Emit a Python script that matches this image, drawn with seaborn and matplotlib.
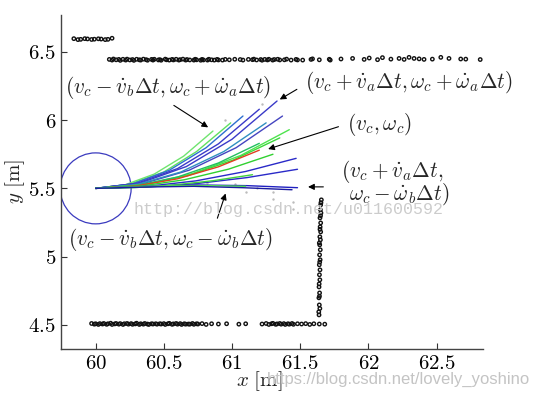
import numpy as np
import pandas as pd
import matplotlib
matplotlib.use("Agg")
import matplotlib.pyplot as plt
import matplotlib.ticker as mticker
from matplotlib.patches import Circle
import seaborn as sns

# robot
robot_x, robot_y, robot_r = 60.0, 5.5, 0.26

# candidate trajectories
traj_x = [
    [60, 60.215, 60.43, 60.645, 60.86],
    [60, 60.25, 60.5, 60.74, 60.99],
    [60, 60.27, 60.54, 60.81, 61.08],
    [60, 60.3, 60.6, 60.9, 61.2],
    [60, 60.33, 60.665, 61.0, 61.33],
    [60, 60.34, 60.685, 61.03, 61.37],
    [60, 60.31, 60.625, 60.94, 61.25],
    [60, 60.355, 60.71, 61.065, 61.42],
    [60, 60.34, 60.675, 61.01, 61.35],
    [60, 60.3, 60.6, 60.9, 61.2],
    [60, 60.3, 60.6, 60.9, 61.2],
    [60, 60.325, 60.65, 60.975, 61.3],
    [60, 60.37, 60.735, 61.1, 61.47],
    [60, 60.37, 60.74, 61.11, 61.48],
    [60, 60.29, 60.575, 60.86, 61.15],
    [60, 60.37, 60.74, 61.11, 61.48],
    [60, 60.28, 60.55, 60.83, 61.1],
    [60, 60.36, 60.72, 61.08, 61.44],
]
traj_y = [
    [5.5, 5.526, 5.605, 5.736, 5.92],
    [5.5, 5.53, 5.62, 5.77, 5.98],
    [5.5, 5.533, 5.633, 5.798, 6.03],
    [5.5, 5.536, 5.645, 5.826, 6.08],
    [5.5, 5.54, 5.66, 5.86, 6.14],
    [5.5, 5.533, 5.633, 5.798, 6.03],
    [5.5, 5.53, 5.62, 5.77, 5.98],
    [5.5, 5.527, 5.608, 5.742, 5.93],
    [5.5, 5.523, 5.593, 5.708, 5.87],
    [5.5, 5.521, 5.583, 5.686, 5.83],
    [5.5, 5.518, 5.57, 5.658, 5.78],
    [5.5, 5.516, 5.563, 5.641, 5.75],
    [5.5, 5.514, 5.555, 5.624, 5.72],
    [5.5, 5.509, 5.535, 5.579, 5.64],
    [5.5, 5.506, 5.525, 5.556, 5.6],
    [5.5, 5.515, 5.525, 5.52, 5.505],
    [5.5, 5.512, 5.52, 5.52, 5.515],
    [5.5, 5.51, 5.515, 5.505, 5.49],
]
traj_colors = ['#6fe46f', '#5fe05f', '#2d6fd0', '#3a3ac8', '#3a3ac8', '#4545c0',
               '#2f8fc0', '#4ee44e', '#3ad83a', '#22c060', '#e04020', '#30d030',
               '#2a2ac8', '#2a2ac8', '#40d040', '#2020c0', '#50e050', '#1a1aa0']

# laser scan obstacle points
wall_tl_x = [59.84, 59.87, 59.89, 59.92, 59.94, 59.97, 59.99, 60.02, 60.04, 60.07, 60.09, 60.12]
wall_tl_y = [6.597, 6.59, 6.592, 6.597, 6.595, 6.591, 6.593, 6.596, 6.594, 6.59, 6.592, 6.6]

wall_top_x = [60.10, 60.12, 60.13, 60.15, 60.17, 60.18, 60.20, 60.22, 60.23, 60.25,
              60.27, 60.28, 60.30, 60.32, 60.33, 60.35, 60.37, 60.38, 60.41, 60.42,
              60.43, 60.46, 60.47, 60.48, 60.51, 60.52, 60.54, 60.56, 60.57, 60.59,
              60.61, 60.62, 60.64, 60.66, 60.67, 60.69, 60.72, 60.73, 60.74, 60.77,
              60.78, 60.79, 60.82, 60.83, 60.85, 60.87, 60.89, 60.90, 60.93, 60.95,
              60.98, 61.02, 61.06, 61.08, 61.12, 61.15, 61.16, 61.18, 61.21, 61.22,
              61.24, 61.26, 61.27, 61.298, 61.31, 61.335, 61.35, 61.384, 61.40, 61.433,
              61.469, 61.48, 61.518, 61.579, 61.59, 61.64, 61.713, 61.72, 61.799,
              61.884, 61.969, 62.006, 62.067, 62.103, 62.165, 62.225, 62.262, 62.298,
              62.335, 62.372, 62.408, 62.469, 62.531, 62.591, 62.677, 62.714, 62.82]
wall_top_y = [6.445, 6.44, 6.448, 6.442, 6.445, 6.438, 6.446, 6.44, 6.447, 6.441,
              6.444, 6.438, 6.446, 6.442, 6.44, 6.447, 6.443, 6.439, 6.445, 6.44,
              6.446, 6.441, 6.443, 6.439, 6.447, 6.442, 6.44, 6.445, 6.441, 6.446,
              6.44, 6.443, 6.447, 6.44, 6.444, 6.441, 6.44, 6.446, 6.442, 6.439,
              6.445, 6.441, 6.44, 6.446, 6.442, 6.44, 6.445, 6.441, 6.44, 6.445,
              6.442, 6.446, 6.444, 6.44, 6.445, 6.443, 6.447, 6.441, 6.444, 6.439,
              6.445, 6.441, 6.446, 6.44, 6.444, 6.446, 6.441, 6.442, 6.447, 6.44,
              6.445, 6.441, 6.44, 6.445, 6.449, 6.442, 6.446, 6.44, 6.448,
              6.452, 6.445, 6.455, 6.443, 6.458, 6.447, 6.452, 6.445, 6.46,
              6.452, 6.449, 6.445, 6.447, 6.46, 6.452, 6.448, 6.447, 6.444]

wall_bot_x = [59.97, 59.99, 60.00, 60.02, 60.03, 60.05, 60.06, 60.08, 60.09, 60.11,
              60.12, 60.14, 60.15, 60.17, 60.18, 60.20, 60.21, 60.23, 60.24, 60.26,
              60.27, 60.29, 60.30, 60.32, 60.33, 60.35, 60.36, 60.38, 60.39, 60.41,
              60.42, 60.44, 60.45, 60.47, 60.48, 60.50, 60.51, 60.53, 60.54, 60.56,
              60.57, 60.59, 60.60, 60.62, 60.63, 60.65, 60.66, 60.68, 60.69, 60.71,
              60.72, 60.74, 60.75, 60.78, 60.81, 60.85, 60.90, 60.96, 61.05, 61.10,
              61.22, 61.25, 61.27, 61.29, 61.30, 61.32, 61.33, 61.35, 61.36, 61.38,
              61.39, 61.41, 61.42, 61.44, 61.45, 61.48, 61.51, 61.54, 61.57, 61.60,
              61.64, 61.68]
wall_bot_y = [4.51, 4.505, 4.508, 4.503, 4.509, 4.506, 4.51, 4.504, 4.508, 4.512,
              4.503, 4.507, 4.51, 4.505, 4.509, 4.503, 4.508, 4.51, 4.505, 4.509,
              4.504, 4.507, 4.512, 4.503, 4.508, 4.505, 4.51, 4.506, 4.503, 4.508,
              4.506, 4.508, 4.505, 4.508, 4.506, 4.509, 4.503, 4.508, 4.511, 4.504,
              4.507, 4.51, 4.505, 4.509, 4.503, 4.508, 4.505, 4.506, 4.505, 4.51,
              4.504, 4.508, 4.506, 4.509, 4.503, 4.508, 4.506, 4.508, 4.505, 4.508,
              4.506, 4.51, 4.503, 4.508, 4.511, 4.504, 4.507, 4.51, 4.505, 4.509,
              4.503, 4.508, 4.505, 4.51, 4.504, 4.508, 4.506, 4.509, 4.503, 4.508,
              4.506, 4.505]

wall_right_x = [61.655, 61.652, 61.65, 61.648, 61.652, 61.649, 61.645, 61.65, 61.646,
                61.65, 61.644, 61.648, 61.643, 61.647, 61.642, 61.646, 61.64, 61.645,
                61.641, 61.644, 61.638, 61.642, 61.637, 61.64, 61.636, 61.638,
                61.645, 61.64, 61.643, 61.639, 61.644, 61.641]
wall_right_y = [5.416, 5.395, 5.379, 5.343, 5.32, 5.30, 5.284, 5.247, 5.218, 5.181,
                5.145, 5.123, 5.086, 5.05, 5.013, 4.977, 4.94, 4.903, 4.867, 4.83,
                4.778, 4.734, 4.698, 4.646, 4.595, 4.573, 5.2, 5.1, 4.96, 4.8,
                4.62, 4.71]

# faint trajectory sample points
sample_x = [60.82, 61.02, 61.18, 61.3, 61.45, 61.45, 61.3, 61.1, 60.95, 61.38, 61.22]
sample_y = [5.54, 5.53, 5.5, 5.42, 5.4, 5.35, 5.47, 5.47, 6.0, 6.17, 6.12]

x_ticks = [60, 60.5, 61, 61.5, 62, 62.5]
y_ticks = [4.5, 5, 5.5, 6, 6.5]

sns.set_style("ticks")
plt.rcParams['mathtext.fontset'] = 'cm'
plt.rcParams['font.family'] = ['DejaVu Serif']

fig = plt.figure(figsize=(5.39, 3.96), dpi=100)
ax = fig.add_axes([0.113, 0.119, 0.783, 0.843])

rows = []
for i, (xs, ys) in enumerate(zip(traj_x, traj_y)):
    for xv, yv in zip(xs, ys):
        rows.append((i, xv, yv))
traj_df = pd.DataFrame(rows, columns=["traj", "x", "y"])
sns.lineplot(data=traj_df, x="x", y="y", hue="traj", palette=traj_colors,
             sort=False, estimator=None, legend=False, lw=1.0, ax=ax)

sns.scatterplot(x=sample_x, y=sample_y, color="#bbbbbb", s=3, linewidth=0, ax=ax)

walls = pd.DataFrame({
    "x": wall_tl_x + wall_top_x + wall_bot_x + wall_right_x,
    "y": wall_tl_y + wall_top_y + wall_bot_y + wall_right_y,
})
sns.scatterplot(data=walls, x="x", y="y", marker="o", s=6, facecolor="none",
                edgecolor="#111111", linewidth=1.0, ax=ax)

ax.add_patch(Circle((robot_x, robot_y), robot_r, fill=False, ec="#3b3bbf", lw=0.9))

fs = 15.3
aprops = dict(arrowstyle="-|>", color="black", lw=0.8, mutation_scale=9)
ax.text(59.773, 6.236, r"$(v_c-\dot{v}_b\Delta t,\omega_c+\dot{\omega}_a\Delta t)$",
        fontsize=fs, va="center", ha="left")
ax.annotate("", xy=(60.842, 5.936), xytext=(60.556, 6.119), arrowprops=aprops)
ax.text(61.537, 6.273, r"$(v_c+\dot{v}_a\Delta t,\omega_c+\dot{\omega}_a\Delta t)$",
        fontsize=fs, va="center", ha="left")
ax.annotate("", xy=(61.332, 6.141), xytext=(61.493, 6.236), arrowprops=aprops)
ax.text(61.845, 5.965, r"$(v_c,\omega_c)$", fontsize=fs, va="center", ha="left")
ax.annotate("", xy=(61.245, 5.782), xytext=(61.80, 5.958), arrowprops=aprops)
ax.text(61.80, 5.621, r"$(v_c+\dot{v}_a\Delta t,$", fontsize=fs, va="center", ha="left")
ax.text(61.86, 5.46, r"$\omega_c-\dot{\omega}_b\Delta t)$", fontsize=fs, va="center", ha="left")
ax.annotate("", xy=(61.537, 5.511), xytext=(61.69, 5.511), arrowprops=aprops)
ax.text(59.795, 5.123, r"$(v_c-\dot{v}_b\Delta t,\omega_c-\dot{\omega}_b\Delta t)$",
        fontsize=fs, va="center", ha="left")
ax.annotate("", xy=(60.959, 5.482), xytext=(60.886, 5.262), arrowprops=aprops)

ax.set_xlim(59.745, 62.84)
ax.set_ylim(4.324, 6.77)
ax.set_xticks(x_ticks)
ax.set_yticks(y_ticks)
fmt = mticker.FuncFormatter(lambda v, p: f"${v:g}$")
ax.xaxis.set_major_formatter(fmt)
ax.yaxis.set_major_formatter(fmt)
ax.tick_params(direction="in", length=4, width=0.8, labelsize=15, colors="#333333",
               labelcolor="black")
ax.set_xlabel(r"$x\ \mathrm{[m]}$", fontsize=15)
ax.set_ylabel(r"$y\ \mathrm{[m]}$", fontsize=15)
ax.xaxis.set_label_coords(0.47, -0.06)
ax.yaxis.set_label_coords(-0.08, 0.5)
sns.despine(ax=ax)
for s in ["left", "bottom"]:
    ax.spines[s].set_color("#444444")
    ax.spines[s].set_linewidth(1.0)

fig.text(0.247, 0.47, "http://blog.csdn.net/u011600592", family="Liberation Mono",
         fontsize=12, color="#cccccc", va="center", ha="left")
fig.text(0.983, 0.042, "https://blog.csdn.net/lovely_yoshino", family="Liberation Sans",
         fontsize=12, color="#c4c4c4", va="center", ha="right")

fig.savefig("out.png", dpi=100)
